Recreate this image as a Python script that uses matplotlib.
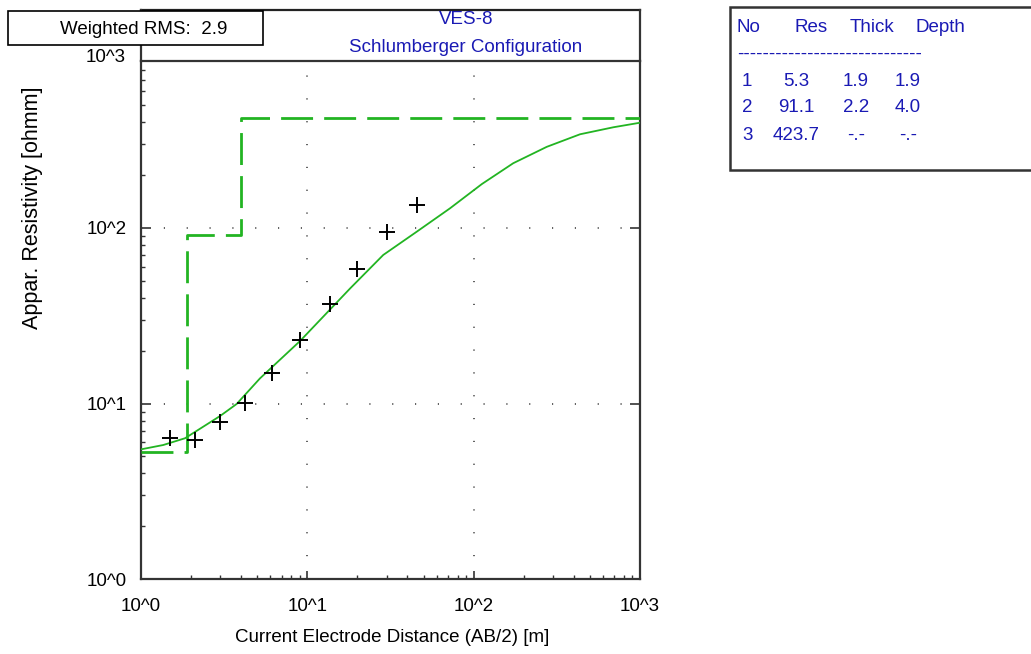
import matplotlib
matplotlib.use("Agg")
import matplotlib.pyplot as plt
from matplotlib.patches import Rectangle
from matplotlib.lines import Line2D
from matplotlib.ticker import NullFormatter

plt.rcParams['font.family'] = ['Liberation Sans', 'DejaVu Sans']

# measured sounding data
ab2 = [1.5, 2.1, 3.0, 4.2, 6.1, 9.0, 13.7, 20.0, 30.3, 45.5]
rho_meas = [6.4, 6.2, 7.8, 10.1, 15.0, 23.0, 36.9, 58.4, 94.5, 135.0]

# calculated model response
ab2_calc = [1.0, 1.36, 1.84, 2.99, 3.76, 5.19, 9.04, 18.1, 28.6, 45.5,
            72.1, 112, 173, 275, 436, 692, 1000]
rho_calc = [5.48, 5.80, 6.34, 8.49, 9.94, 13.9, 22.7, 45.3, 70.2, 95.3,
            129.5, 178, 234, 290, 342, 375, 398]

# layered model
layer_no = [1, 2, 3]
layer_res = [5.3, 91.1, 423.7]
layer_thick = [1.9, 2.2, None]
layer_depth = [1.9, 4.0, None]

title = "VES-8"
subtitle = "Schlumberger Configuration"
rms = 2.9

W, H = 1031, 654
green = '#22b422'
blue = '#1a1ab4'
FS = 13.5


def fx(x):
    return x / W


def fy(y):
    return 1 - y / H


fig = plt.figure(figsize=(W / 100, H / 100), dpi=100)
fig.patch.set_facecolor('white')
ax = fig.add_axes([fx(141), fy(579), (640 - 141) / W, (579 - 61) / H])
ax.set_xscale('log')
ax.set_yscale('log')
ax.set_xlim(1, 1000)
ax.set_ylim(1, 10 ** (518 / 175.5))

# model step function (dashed)
step_x = [1.0]
step_y = [layer_res[0]]
for i, d in enumerate(layer_depth[:-1]):
    step_x += [d, d]
    step_y += [layer_res[i], layer_res[i + 1]]
step_x.append(1000)
step_y.append(layer_res[-1])
ax.plot(step_x, step_y, color=green, lw=2.0, dashes=(11.5, 4), zorder=3)

ax.plot(ab2_calc, rho_calc, color=green, lw=1.3, zorder=3)
ax.plot(ab2, rho_meas, '+', color='black', ms=11, mew=1.4, zorder=4)

# grid
for v in [10, 100]:
    ax.axvline(v, color='#444444', lw=1.2, ls=(0, (0.7, 13)), zorder=1)
    ax.axhline(v, color='#444444', lw=1.2, ls=(0, (0.7, 13)), zorder=1)

for s in ax.spines.values():
    s.set_color('#333333')
    s.set_linewidth(1.6)

ax.set_xticks([1, 10, 100, 1000])
ax.set_xticklabels(['10^0', '10^1', '10^2', '10^3'])
ax.set_yticks([1, 10, 100])
ax.set_yticklabels(['10^0', '10^1', '10^2'])
ax.xaxis.set_minor_formatter(NullFormatter())
ax.yaxis.set_minor_formatter(NullFormatter())
ax.tick_params(which='major', direction='in', length=6, width=1.2,
               color='#333333', labelsize=FS)
ax.tick_params(axis='x', which='major', pad=14)
ax.tick_params(axis='y', which='major', right=True, length=7, pad=10)
ax.tick_params(which='minor', direction='in', length=3, width=1.0,
               color='#333333')
# top label sits just above the frame, partly behind the RMS box
fig.text(fx(126), fy(57), '10^3', ha='right', va='center', fontsize=FS,
         zorder=2)

# axis labels
fig.text(fx(392), fy(638), 'Current Electrode Distance (AB/2) [m]',
         ha='center', va='center', fontsize=FS)
fig.text(fx(33), fy(208), 'Appar. Resistivity [ohmm]', rotation=90,
         ha='center', va='center', fontsize=15.5)

# title box
fig.add_artist(Line2D([fx(141), fx(640)], [fy(10), fy(10)],
                      transform=fig.transFigure, color='#222222', lw=1.6))
fig.add_artist(Line2D([fx(640), fx(640)], [fy(10), fy(61)],
                      transform=fig.transFigure, color='#333333', lw=1.6))
fig.add_artist(Line2D([fx(141), fx(141)], [fy(10), fy(61)],
                      transform=fig.transFigure, color='#333333', lw=1.6))
fig.text(fx(466), fy(19), title, ha='center', va='center', fontsize=FS,
         color=blue)
fig.text(fx(466), fy(48), subtitle, ha='center', va='center', fontsize=FS,
         color=blue)

# RMS box
fig.add_artist(Rectangle((fx(8), fy(45)), (263 - 8) / W, (45 - 11) / H,
                         transform=fig.transFigure, facecolor='white',
                         edgecolor='black', lw=1.2, zorder=5))
fig.text(fx(144), fy(29), f'Weighted RMS:  {rms}', ha='center', va='center',
         fontsize=FS, zorder=6)

# layer table
fig.add_artist(Rectangle((fx(730), fy(170)), (1040 - 730) / W, (170 - 7) / H,
                         transform=fig.transFigure, facecolor='white',
                         edgecolor='#333333', lw=1.8))
hy = fy(27)
fig.text(fx(737), hy, 'No', ha='left', va='center', fontsize=FS, color=blue)
fig.text(fx(811), hy, 'Res', ha='center', va='center', fontsize=FS, color=blue)
fig.text(fx(872), hy, 'Thick', ha='center', va='center', fontsize=FS, color=blue)
fig.text(fx(940), hy, 'Depth', ha='center', va='center', fontsize=FS, color=blue)
fig.text(fx(737), fy(54), '-' * 29, ha='left', va='center', fontsize=FS,
         color=blue)
row_y = [82, 108, 135]


def fmt(v):
    return '-.-' if v is None else f'{v:.1f}'


for n, r, t, d, yy in zip(layer_no, layer_res, layer_thick, layer_depth, row_y):
    fig.text(fx(742), fy(yy), str(n), ha='left', va='center', fontsize=FS, color=blue)
    fig.text(fx(796), fy(yy), fmt(r), ha='center', va='center', fontsize=FS, color=blue)
    fig.text(fx(856), fy(yy), fmt(t), ha='center', va='center', fontsize=FS, color=blue)
    fig.text(fx(908), fy(yy), fmt(d), ha='center', va='center', fontsize=FS, color=blue)

fig.savefig('out.png', dpi=100)
